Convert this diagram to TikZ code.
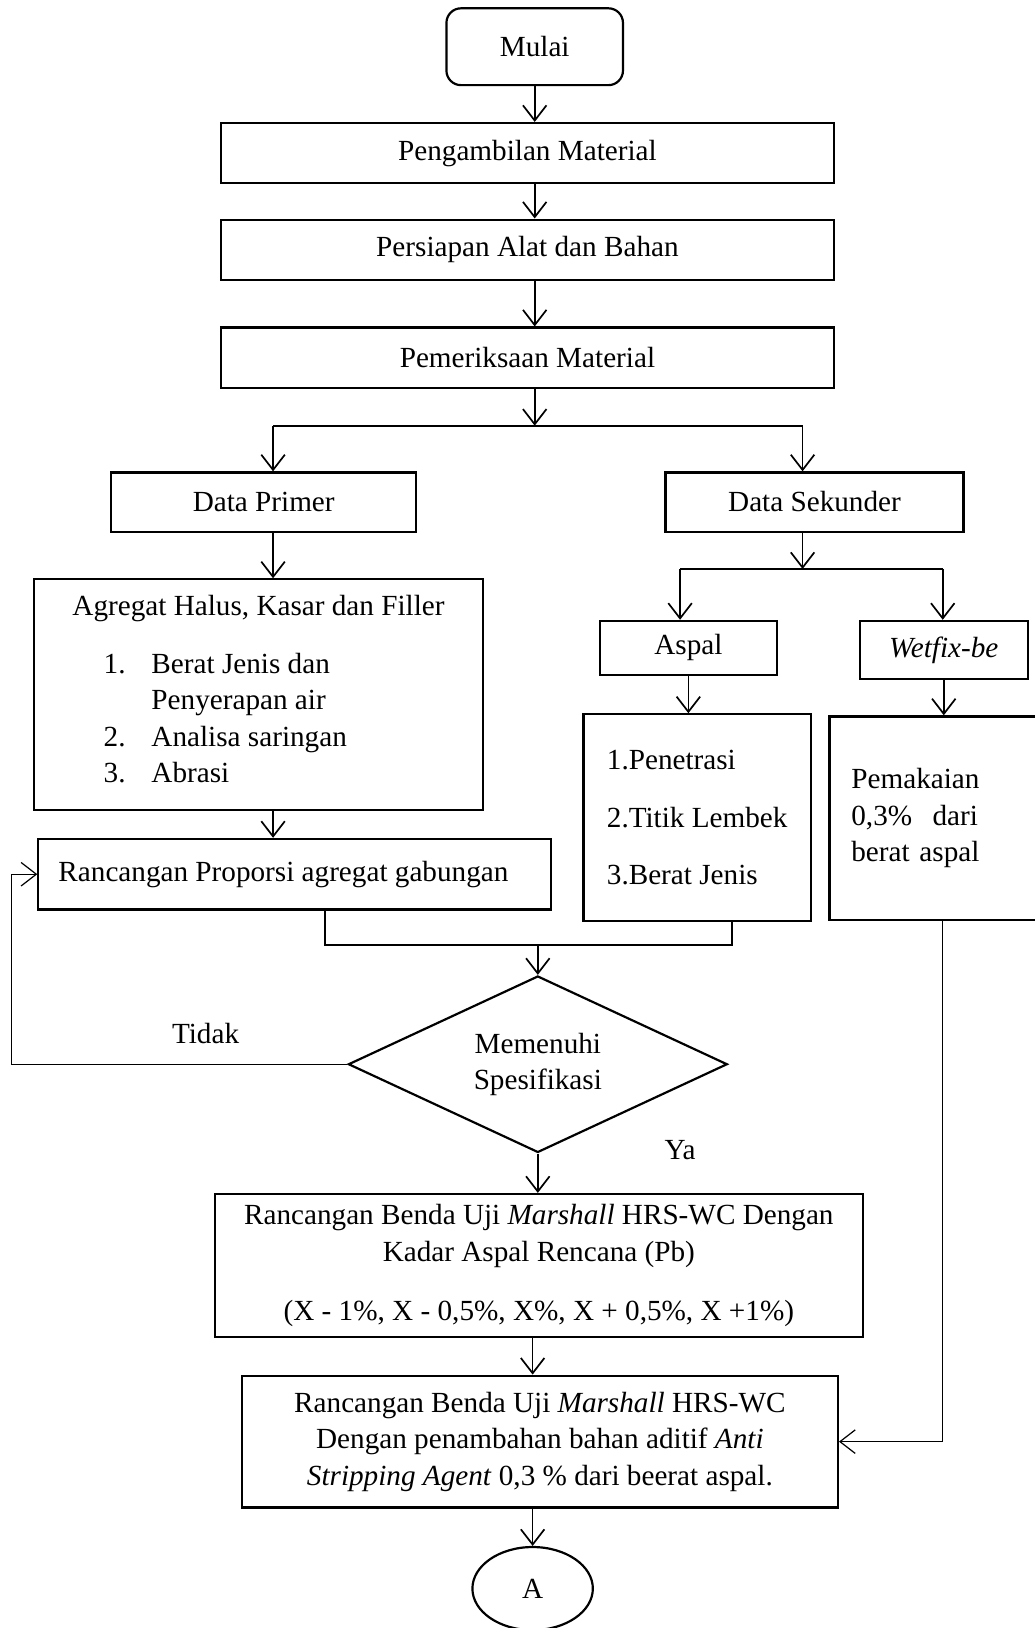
\documentclass[tikz,border=0pt]{standalone}
\usepackage{fontspec}
\setmainfont{Liberation Serif}
\usetikzlibrary{shapes.geometric,arrows.meta}

\begin{document}
\begin{tikzpicture}[x=0.015cm,y=-0.015cm,>={Straight Barb[length=2.2mm,width=3.4mm]},
        font=\fontsize{12}{15}\selectfont,
        kotak/.style={draw,line width=0.9pt,inner sep=0pt},
        panah/.style={->,line width=0.7pt}]
    \useasboundingbox (0,0) rectangle (996,1568);
    % kolom tengah
    \node[kotak,rounded corners=0.21cm,minimum width=2.55cm,minimum height=1.11cm] (mulai) at (515,45) {Mulai};
    \node[kotak,minimum width=8.85cm,minimum height=0.87cm] (ambil) at (508,147.5) {Pengambilan Material};
    \node[kotak,minimum width=8.85cm,minimum height=0.87cm] (siap) at (508,240.5) {Persiapan Alat dan Bahan};
    \node[kotak,minimum width=8.85cm,minimum height=0.87cm] (periksa) at (508,344.5) {Pemeriksaan Material};
    \coordinate (pisah) at (515,410);
    \coordinate (ki) at (263,410);
    \coordinate (ka) at (773,410);
    % data primer
    \node[kotak,minimum width=4.41cm,minimum height=0.855cm] (primer) at (254,483.5) {Data Primer};
    \node[kotak,align=center,minimum width=6.48cm,minimum height=3.33cm] (agregat) at (249,669)
        {Agregat Halus, Kasar dan Filler\\[0.3cm]
        \hspace*{-0.96cm}\begin{tabular}[t]{@{}p{0.69cm}@{}l@{}}1.&Berat Jenis dan\\&Penyerapan air\\2.&Analisa saringan\\3.&Abrasi\end{tabular}};
    \node[kotak,minimum width=7.41cm,minimum height=1.02cm] (proporsi) at (284,842) {\hspace*{-0.33cm}Rancangan Proporsi agregat gabungan};
    % data sekunder
    \node[kotak,minimum width=4.305cm,minimum height=0.855cm] (sekunder) at (784.5,483.5) {Data Sekunder};
    \coordinate (pisah2) at (773,548);
    \coordinate (ki2) at (655,548);
    \coordinate (ka2) at (908,548);
    \node[kotak,minimum width=2.55cm,minimum height=0.78cm] (aspal) at (663,624) {Aspal};
    \node[kotak,minimum width=2.43cm,minimum height=0.84cm] (wetfix) at (909,626) {\textit{Wetfix-be}};
    \node[kotak,align=left,minimum width=3.285cm,minimum height=2.985cm] (uji) at (671.5,787.5)
        {1.Penetrasi\\[8.6pt]2.Titik Lembek\\[8.6pt]3.Berat Jenis};
    \node[kotak,align=left,inner xsep=0.315cm,text width=2.385cm,minimum height=2.94cm] (pakai) at (899.5,788)
        {Pemakaian\\0,3\%\hspace{0.7em}dari\\berat aspal};
    % keputusan
    \coordinate (kiri) at (313,910);
    \coordinate (kanan) at (705,910);
    \coordinate (gabung) at (518,910);
    \node[kotak,diamond,aspect=2.15,align=center,minimum width=5.475cm,minimum height=2.55cm] (spek) at (518,1025) {Memenuhi\\Spesifikasi};
    \coordinate (balik) at (11,1025);
    \node (tidak) at (198,995) {Tidak};
    \node (ya) at (655,1108) {Ya};
    % rancangan benda uji
    \node[kotak,align=center,minimum width=9.36cm,minimum height=2.07cm] (benda) at (519,1219)
        {Rancangan Benda Uji \textit{Marshall} HRS-WC Dengan\\Kadar Aspal Rencana (Pb)\\[0.33cm](X - 1\%, X - 0,5\%, X\%, X + 0,5\%, X +1\%)};
    \node[kotak,align=center,minimum width=8.61cm,minimum height=1.905cm] (aditif) at (520,1388.5)
        {Rancangan Benda Uji \textit{Marshall} HRS-WC\\Dengan penambahan bahan aditif \textit{Anti}\\\textit{Stripping Agent} 0,3 \% dari beerat aspal.};
    \coordinate (turun) at (908,1385);
    \node[kotak,ellipse,minimum width=1.74cm,minimum height=1.2cm] (A) at (513,1530) {A};

    % panah
    \draw[panah] (mulai) -- (mulai |- ambil.north);
    \draw[panah] (mulai |- ambil.south) -- (mulai |- siap.north);
    \draw[panah] (mulai |- siap.south) -- (mulai |- periksa.north);
    \draw[panah] (pisah |- periksa.south) -- (pisah);
    \draw[line width=0.7pt] (ki) -- (ka);
    \draw[panah] (ki) -- (ki |- primer.north);
    \draw[panah] (ka) -- (ka |- sekunder.north);
    \draw[panah] (ki |- primer.south) -- (ki |- agregat.north);
    \draw[panah] (ki |- agregat.south) -- (ki |- proporsi.north);
    \draw[panah] (pisah2 |- sekunder.south) -- (pisah2);
    \draw[line width=0.7pt] (ki2) -- (ka2);
    \draw[panah] (ki2) -- (ki2 |- aspal.north);
    \draw[panah] (ka2) -- (ka2 |- wetfix.north);
    \draw[panah] (aspal) -- (aspal |- uji.north);
    \draw[panah] (wetfix) -- (wetfix |- pakai.north);
    \draw[line width=0.7pt] (kiri |- proporsi.south) -- (kiri) -- (kanan) -- (kanan |- uji.south);
    \draw[panah] (gabung) -- (spek.north);
    \draw[->,line width=0.5pt] (spek.west) -- (balik) |- (proporsi.west);
    \draw[panah] (spek.south) -- (spek.south |- benda.north);
    \draw[panah] (A |- benda.south) -- (A |- aditif.north);
    \draw[->,line width=0.5pt] (turun |- pakai.south) |- (aditif.east);
    \draw[panah] (A |- aditif.south) -- (A);
\end{tikzpicture}
\end{document}
